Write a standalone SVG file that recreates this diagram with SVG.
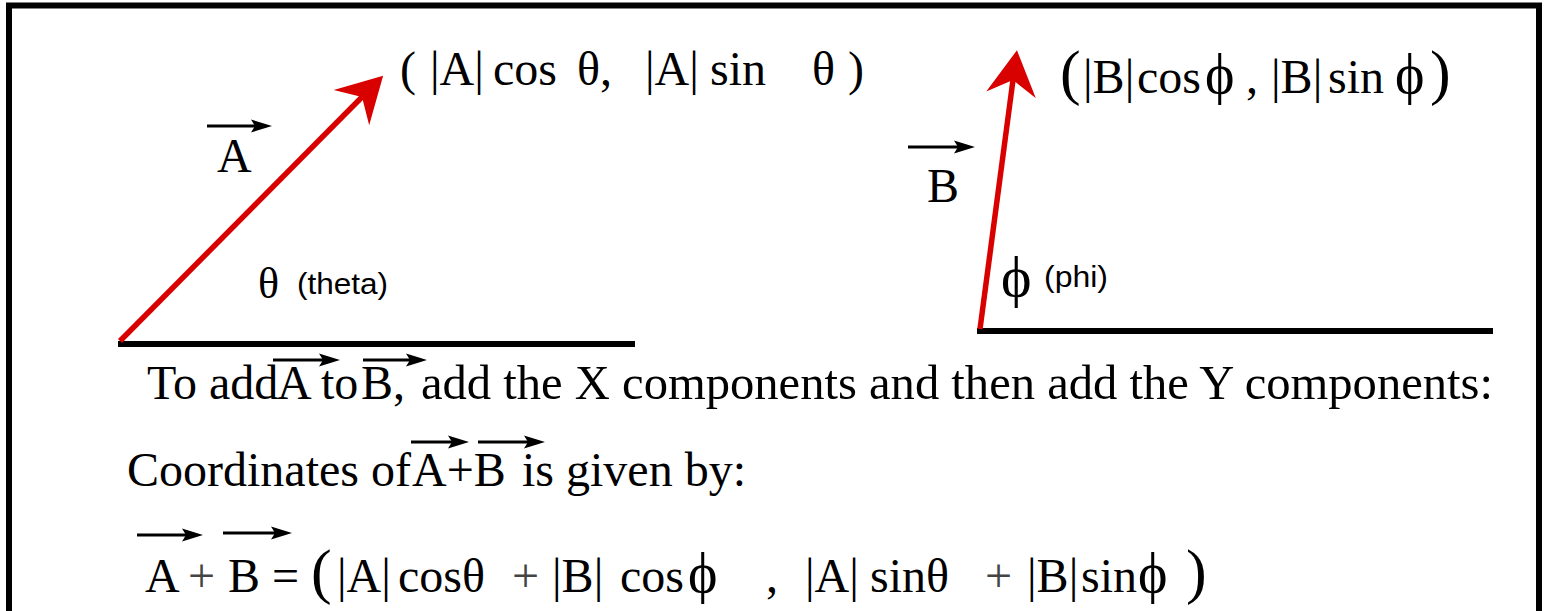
<svg xmlns="http://www.w3.org/2000/svg" width="1544" height="611" viewBox="0 0 1544 611">
<style>
.t{font-family:"Liberation Serif","DejaVu Serif",serif;font-size:48px;fill:#000}
.g{font-family:"Liberation Serif","DejaVu Serif",serif;fill:#000}
.s{font-family:"Liberation Sans",Arial,sans-serif;font-size:30px;fill:#000}
.big{font-size:62px}
.phi{font-size:56px}
.gr{fill:#444}
.base{stroke:#000;stroke-width:6;fill:none}
.vec{stroke:#d90000;stroke-width:5.5;fill:none;marker-end:url(#redHead)}
.ov{stroke:#000;stroke-width:3;fill:none;marker-end:url(#blkHead)}
</style>
<defs>
<marker id="redHead" markerUnits="userSpaceOnUse" viewBox="0 -26 46 52" refX="15" refY="0" markerWidth="46" markerHeight="52" orient="auto">
<path d="M0,-25 L45,0 L0,25 L15,0 Z" fill="#d90000"/>
</marker>
<marker id="blkHead" markerUnits="userSpaceOnUse" viewBox="0 -7 22 14" refX="4" refY="0" markerWidth="22" markerHeight="14" orient="auto">
<path d="M0,-6.5 L21,0 L0,6.5 L4,0 Z" fill="#000"/>
</marker>
</defs>
<rect id="frame" x="9" y="5.5" width="1530" height="700" fill="#fff" stroke="#000" stroke-width="6"/>

<g id="connectors">
<line class="base" x1="118" y1="344" x2="635" y2="344"/>
<line class="base" x1="977" y1="331" x2="1493" y2="331"/>
<line class="vec" x1="120" y1="341" x2="362" y2="97"/>
<line class="vec" x1="980" y1="329" x2="1013" y2="80"/>
<line class="ov" x1="207" y1="126" x2="255" y2="126"/>
<line class="ov" x1="908" y1="147" x2="958" y2="147"/>
<line class="ov" x1="273" y1="360" x2="323" y2="360"/>
<line class="ov" x1="363" y1="360" x2="410" y2="360"/>
<line class="ov" x1="411" y1="442" x2="452" y2="442"/>
<line class="ov" x1="478" y1="442" x2="528" y2="442"/>
<line class="ov" x1="137" y1="535" x2="186" y2="535"/>
<line class="ov" x1="223" y1="533" x2="275" y2="533"/>
</g>

<g id="vectorA">
<text class="t" x="217" y="172">A</text>
<text class="t" y="85"><tspan x="400">(</tspan><tspan x="430">|A|</tspan><tspan x="493">cos</tspan><tspan x="577">θ,</tspan><tspan x="645">|A|</tspan><tspan x="710">sin</tspan><tspan x="812">θ</tspan><tspan x="848">)</tspan></text>
<text class="t" x="258" y="298" style="font-size:44px">θ</text>
<text class="s" x="297" y="294" textLength="91" lengthAdjust="spacingAndGlyphs">(theta)</text>
</g>

<g id="vectorB">
<text class="t" x="927" y="202">B</text>
<text class="t" y="93"><tspan x="1060" class="big">(</tspan><tspan x="1083">|B|</tspan><tspan x="1137">cos</tspan><tspan x="1205" class="phi">ϕ</tspan><tspan x="1246">,</tspan><tspan x="1271">|B|</tspan><tspan x="1328">sin</tspan><tspan x="1395" class="phi">ϕ</tspan><tspan x="1430" class="big">)</tspan></text>
<text class="g" x="1001" y="296" style="font-size:58px">ϕ</text>
<text class="s" x="1044" y="287" textLength="64" lengthAdjust="spacingAndGlyphs">(phi)</text>
</g>

<g id="explanation">
<text class="t" y="399"><tspan x="147">To add</tspan><tspan x="277">A</tspan><tspan x="321">to</tspan><tspan x="361">B,</tspan><tspan x="421" style="font-size:48.6px">add the X components and then add the Y components:</tspan></text>
<text class="t" y="486"><tspan x="127">Coordinates of</tspan><tspan x="412">A+B</tspan><tspan x="522">is given by:</tspan></text>
<text class="t" y="592"><tspan x="145">A</tspan><tspan x="188" class="gr">+</tspan><tspan x="228">B</tspan><tspan x="272">=</tspan><tspan x="311" class="big">(</tspan><tspan x="337">|A|</tspan><tspan x="398">cosθ</tspan><tspan x="512" class="gr">+</tspan><tspan x="552">|B|</tspan><tspan x="620">cos</tspan><tspan x="688" class="phi">ϕ</tspan><tspan x="766">,</tspan><tspan x="805">|A|</tspan><tspan x="870">sinθ</tspan><tspan x="985" class="gr">+</tspan><tspan x="1027">|B|</tspan><tspan x="1081">sin</tspan><tspan x="1138" class="phi">ϕ</tspan><tspan x="1186" class="big">)</tspan></text>
</g>
</svg>
